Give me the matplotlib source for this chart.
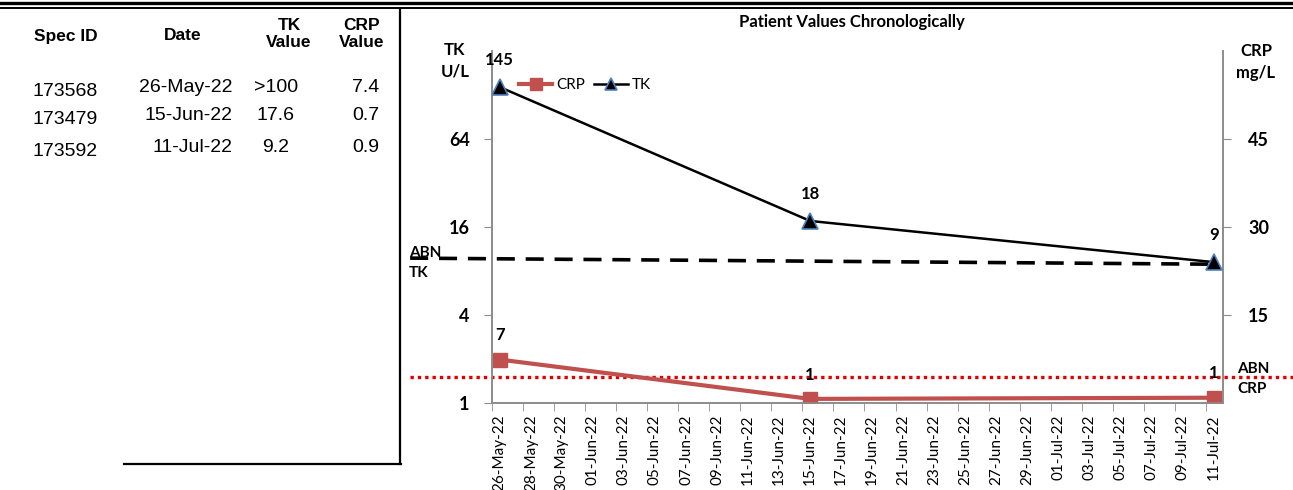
import datetime as dt
import matplotlib
matplotlib.use("Agg")
import matplotlib.pyplot as plt
import matplotlib.dates as mdates
from matplotlib.lines import Line2D
from matplotlib.transforms import blended_transform_factory

# tabel links
spec_ids = ["173568", "173479", "173592"]
date_labels = ["26-May-22", "15-Jun-22", "11-Jul-22"]
tk_text = [">100", "17.6", "9.2"]
crp_text = ["7.4", "0.7", "0.9"]

# grafiek data
dates = [dt.date(2022, 5, 26), dt.date(2022, 6, 15), dt.date(2022, 7, 11)]
tk_values = [145, 17.6, 9.2]
crp_values = [7.4, 0.7, 0.9]
tk_labels = ["145", "18", "9"]
crp_labels = ["7", "1", "1"]
abn_tk = [9.8, 8.9]      # afkapwaarde TK (lijn loopt iets schuin)
abn_crp = 4.4            # afkapwaarde CRP

W, H = 1293, 490
fig = plt.figure(figsize=(W / 100, H / 100), dpi=100)

def fx(px):
    return px / W

def fy(py):
    return 1 - py / H

# lijnen rond de tabel
fig.add_artist(Line2D([0, 1], [fy(3.5), fy(3.5)], color="black", lw=2.4))
fig.add_artist(Line2D([0, 1], [fy(8), fy(8)], color="black", lw=1.4))
fig.add_artist(Line2D([fx(400), fx(400)], [fy(9), fy(464)], color="black", lw=1.6))
fig.add_artist(Line2D([fx(124), fx(401)], [fy(463.5), fy(463.5)], color="black", lw=1.6))

# tabel tekst
tab_font = "Liberation Sans"
hdr = dict(fontsize=12.5, fontweight="bold", family=tab_font, ha="center", va="center")
fig.text(fx(66), fy(36), "Spec ID", **hdr)
fig.text(fx(183), fy(36), "Date", **hdr)
fig.text(fx(289), fy(34), "TK\nValue", linespacing=1.15, **hdr)
fig.text(fx(362), fy(34), "CRP\nValue", linespacing=1.15, **hdr)

spec_y = [92, 119, 152]
row_y = [87, 115, 147]
for i in range(len(spec_ids)):
    fig.text(fx(32), fy(spec_y[i]), spec_ids[i], fontsize=14, family=tab_font, ha="left", va="center")
    fig.text(fx(233), fy(row_y[i]), date_labels[i], fontsize=14, family=tab_font, ha="right", va="center")
    fig.text(fx(276), fy(row_y[i]), tk_text[i], fontsize=14, family=tab_font, ha="center", va="center")
    fig.text(fx(366), fy(row_y[i]), crp_text[i], fontsize=14, family=tab_font, ha="center", va="center")

# grafiek
chart_font = "Lato"
grey = "#8c8c8c"
ax = fig.add_axes([fx(492), fy(403), fx(1223) - fx(492), fy(51) - fy(403)])
ax2 = ax.twinx()

ax.set_yscale("log", base=2)

d0 = mdates.date2num(dates[0])
d1 = mdates.date2num(dates[-1])

ln_crp, = ax2.plot(dates, crp_values, color="#C0504D", lw=3, marker="s", ms=10,
                   mfc="#C0504D", mec="#C0504D", zorder=3, label="CRP")
ln_tk, = ax.plot(dates, tk_values, color="black", lw=1.8, marker="^", ms=11,
                 mfc="black", mec="#4F81BD", mew=1.2, zorder=4, label="TK")
ax.set_zorder(ax2.get_zorder() + 1)
ax.patch.set_visible(False)

# afkaplijnen
tr = blended_transform_factory(ax.transAxes, ax.transData)
ax.plot([-0.112, 0.989], abn_tk, color="black", lw=2.6, ls=(0, (5, 3)),
        transform=tr, clip_on=False, zorder=2)
tr2 = blended_transform_factory(ax2.transAxes, ax2.transData)
ax2.plot([-0.112, 1.1], [abn_crp, abn_crp], color="#e00000", lw=2.4, ls=(0, (1, 1.2)),
         transform=tr2, clip_on=False, zorder=2)

# datalabels
lab = dict(fontsize=12, fontweight="bold", family=chart_font, ha="center", va="center")
for d, v, t in zip(dates, tk_values, tk_labels):
    ax.annotate(t, (d, v), xytext=(0, 19.5), textcoords="offset points", **lab)
for d, v, t in zip(dates, crp_values, crp_labels):
    ax2.annotate(t, (d, v), xytext=(0, 17.5), textcoords="offset points", **lab)

# assen
for a in (ax, ax2):
    a.spines["top"].set_visible(False)
    for s in ("left", "right", "bottom"):
        a.spines[s].set_color(grey)
        a.spines[s].set_linewidth(1.2)

ax.set_yticks([1, 4, 16, 64])
ax.set_yticklabels(["1", "4", "16", "64"])
ax.yaxis.set_minor_locator(plt.NullLocator())
ax.tick_params(axis="y", which="major", length=6, color=grey, pad=10,
               labelsize=13)
for t in ax.get_yticklabels():
    t.set_fontweight("bold")
    t.set_family(chart_font)

ax2.set_yticks([15, 30, 45])
ax2.tick_params(axis="y", length=6, color=grey, pad=12, labelsize=13)
for t in ax2.get_yticklabels():
    t.set_fontweight("bold")
    t.set_family(chart_font)

# datums om de twee dagen, streepjes ertussen
n_lab = int((d1 - d0) / 2) + 1
major = [d0 + 2 * k for k in range(n_lab)]
minor = [d0 + 2 * k - 0.5 for k in range(n_lab)]
ax.set_xticks(major)
ax.set_xticklabels([mdates.num2date(m).strftime("%d-%b-%y") for m in major])
ax.set_xticks(minor, minor=True)
ax.tick_params(axis="x", which="major", length=0, pad=8, labelsize=11, rotation=90)
ax.tick_params(axis="x", which="minor", length=6, color=grey)
for t in ax.get_xticklabels():
    t.set_family(chart_font)

# limieten na de ticks zetten
ax.set_xlim(d0 - 0.5, d1 + 0.6)
ax.set_ylim(1, 256)
ax2.set_ylim(0, 60)

# astitels
fig.text(fx(455), fy(61), "TK\nU/L", fontsize=12, fontweight="bold", family=chart_font,
         ha="center", va="center", linespacing=1.4)
fig.text(fx(1256), fy(62), "CRP\nmg/L", fontsize=12, fontweight="bold", family=chart_font,
         ha="center", va="center", linespacing=1.4)
fig.text(fx(409), fy(263), "ABN\nTK", fontsize=11, fontweight="bold", family=chart_font,
         ha="left", va="center", linespacing=1.6)
fig.text(fx(1237), fy(379), "ABN\nCRP", fontsize=11, fontweight="bold", family=chart_font,
         ha="left", va="center", linespacing=1.6)
fig.text(fx(852), fy(22), "Patient Values Chronologically", fontsize=12,
         fontweight="bold", family=chart_font, ha="center", va="center")

leg = ax.legend([ln_crp, ln_tk], ["CRP", "TK"], loc="center left",
                bbox_to_anchor=(fx(505 - 492) / fx(731), (403 - 85) / 352),
                ncol=2, frameon=False, handlelength=2.2, columnspacing=0.6,
                handletextpad=0.25, prop={"family": chart_font, "size": 11})
for h in leg.legend_handles:
    h.set_markersize(8)

fig.savefig("out.png", dpi=100)
